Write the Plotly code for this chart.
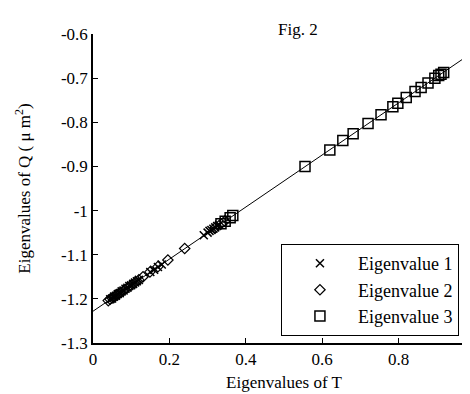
import plotly.graph_objects as go

# ---- data ----
ev1_x = [0.045, 0.05, 0.055, 0.06, 0.065, 0.07, 0.075, 0.08, 0.085, 0.09, 0.095, 0.10,
         0.105, 0.11, 0.115, 0.12, 0.15, 0.16, 0.17, 0.18, 0.29, 0.30, 0.305, 0.31,
         0.315, 0.32, 0.325, 0.33]
ev1_y = [-1.201, -1.199, -1.195, -1.193, -1.189, -1.187, -1.183, -1.181, -1.177, -1.175,
         -1.171, -1.169, -1.166, -1.163, -1.160, -1.157, -1.139, -1.134, -1.128, -1.122,
         -1.056, -1.050, -1.046, -1.044, -1.041, -1.038, -1.035, -1.032]

ev2_x = [0.04, 0.045, 0.05, 0.055, 0.06, 0.065, 0.07, 0.08, 0.09, 0.10, 0.11, 0.12,
         0.131, 0.149, 0.17, 0.196, 0.24, 0.32, 0.335, 0.345]
ev2_y = [-1.204, -1.201, -1.198, -1.196, -1.192, -1.190, -1.187, -1.181, -1.175, -1.169,
         -1.163, -1.157, -1.150, -1.139, -1.127, -1.112, -1.086, -1.039, -1.030, -1.024]

ev3_x = [0.335, 0.346, 0.359, 0.366, 0.555, 0.62, 0.654, 0.681, 0.72, 0.754, 0.785,
         0.798, 0.82, 0.843, 0.859, 0.877, 0.895, 0.905, 0.911, 0.918]
ev3_y = [-1.030, -1.024, -1.016, -1.011, -0.900, -0.863, -0.841, -0.826, -0.803, -0.783,
         -0.765, -0.757, -0.744, -0.730, -0.721, -0.711, -0.700, -0.694, -0.691, -0.687]

fit_slope = 0.59
fit_intercept = -1.228
fit_x = [0.0, 1.0]

x_ticks = [0, 0.2, 0.4, 0.6, 0.8, 1.0]
x_ticktext = ["0", "0.2", "0.4", "0.6", "0.8", "1"]
y_ticks = [-1.3, -1.2, -1.1, -1.0, -0.9, -0.8, -0.7, -0.6]
y_ticktext = ["-1.3", "-1.2", "-1.1", "-1", "-0.9", "-0.8", "-0.7", "-0.6"]

FONT = "Liberation Serif, Times New Roman, serif"

fit_y = [fit_intercept + fit_slope * v for v in fit_x]

fig = go.Figure()
fig.add_trace(go.Scatter(x=fit_x, y=fit_y, mode="lines",
                         line=dict(color="black", width=1), showlegend=False,
                         hoverinfo="skip"))
fig.add_trace(go.Scatter(x=ev1_x, y=ev1_y, mode="markers", name="Eigenvalue 1",
                         marker=dict(symbol="x-thin-open", size=8, color="black",
                                     line=dict(color="black", width=1.5))))
fig.add_trace(go.Scatter(x=ev2_x, y=ev2_y, mode="markers", name="Eigenvalue 2",
                         marker=dict(symbol="diamond-open", size=8, color="black",
                                     line=dict(color="black", width=1.2))))
fig.add_trace(go.Scatter(x=ev3_x, y=ev3_y, mode="markers", name="Eigenvalue 3",
                         marker=dict(symbol="square-open", size=10, color="black",
                                     line=dict(color="black", width=1.5))))

fig.update_layout(
    width=470, height=394,
    margin=dict(l=85, r=3, t=26, b=59),
    paper_bgcolor="white", plot_bgcolor="white",
    font=dict(family=FONT, size=16, color="black"),
    showlegend=True,
    legend=dict(x=0.492, y=0.32, xanchor="left", yanchor="top",
                bordercolor="black", borderwidth=1, bgcolor="white",
                font=dict(family=FONT, size=18), itemwidth=66,
                entrywidth=110, tracegroupgap=0),
    annotations=[dict(text="Fig. 2", x=0.537, y=1.013, xref="paper", yref="paper",
                      xanchor="center", yanchor="middle",
                      showarrow=False, font=dict(family=FONT, size=17))],
)
fig.update_xaxes(range=[0, 1], tickvals=x_ticks, ticktext=x_ticktext,
                 ticks="inside", ticklen=5, tickcolor="black", tickwidth=1,
                 showline=True, linecolor="black", linewidth=1.5,
                 showgrid=False, zeroline=False,
                 tickfont=dict(family=FONT, size=17),
                 title=dict(text="Eigenvalues of T", font=dict(family=FONT, size=17),
                            standoff=8))
fig.update_yaxes(range=[-1.3, -0.6], tickvals=y_ticks, ticktext=y_ticktext,
                 ticks="inside", ticklen=5, tickcolor="black", tickwidth=1,
                 showline=True, linecolor="black", linewidth=1.5,
                 showgrid=False, zeroline=False,
                 tickfont=dict(family=FONT, size=17),
                 title=dict(text="Eigenvalues of Q ( μ m<sup>2</sup>)",
                            font=dict(family=FONT, size=17), standoff=26))

fig.write_html("out.html")
